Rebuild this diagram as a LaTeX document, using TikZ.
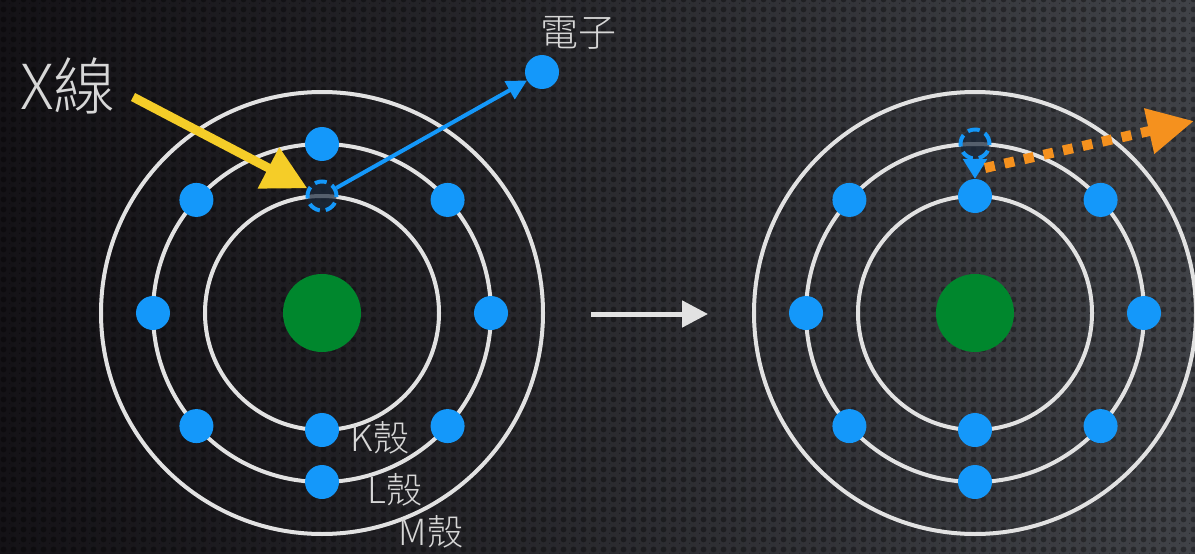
\documentclass[tikz,border=0pt]{standalone}
\usepackage{fontspec}
\newfontfamily\cjk{Noto Sans CJK TC}[UprightFont={* Light}]
\usetikzlibrary{arrows.meta,calc,patterns.meta}
\definecolor{elBlue}{RGB}{20,152,250}
\definecolor{nucGreen}{RGB}{0,135,45}
\definecolor{xYellow}{RGB}{245,205,40}
\definecolor{phOrange}{RGB}{245,145,30}
\definecolor{shellWhite}{RGB}{226,226,226}
\definecolor{inkText}{RGB}{215,215,215}
\definecolor{bgDark}{RGB}{20,18,22}
\definecolor{bgGray}{RGB}{64,66,71}
\definecolor{holeFill}{RGB}{25,40,60}

% dark pits of the mesh backdrop
\tikzdeclarepattern{name=mesh,type=uncolored,
  bottom left={(0pt,0pt)},top right={(10pt,10pt)},tile size={(10pt,10pt)},
  code={\fill (5pt,5pt) circle (3.2pt); \fill (0pt,0pt) circle (1.6pt);}}

\begin{document}
\begin{tikzpicture}[x=1pt,y=-1pt,
  shell/.style={draw=shellWhite,line width=4pt},
  el/.style={circle,fill=elBlue,minimum size=34pt,inner sep=0pt},
  nuc/.style={circle,fill=nucGreen,minimum size=78pt,inner sep=0pt},
  hole/.style={circle,draw=elBlue,line width=4pt,dash pattern=on 12pt off 6pt,
               fill=holeFill,fill opacity=0.7,minimum size=29pt,inner sep=0pt},
  lbl/.style={text=inkText,font=\cjk\fontsize{36}{40}\selectfont,inner sep=0pt},
  xray/.style={draw=xYellow,line width=9pt,-{Triangle[length=44pt,width=44pt]}},
  eject/.style={draw=elBlue,line width=4pt,-{Triangle[length=20pt,width=20pt]}},
  drop/.style={draw=elBlue,line width=3pt,-{Triangle[length=20pt,width=24pt]}},
  photon/.style={draw=phOrange,line width=10pt,dash pattern=on 10pt off 10pt,
                 -{Triangle[length=46pt,width=44pt]}},
  nextarr/.style={draw=shellWhite,line width=5pt,-{Triangle[length=26pt,width=26pt]}}]
  % background
  \useasboundingbox (0,0) rectangle (1195,554);
  \shade[left color=bgDark,right color=bgGray] (0,0) rectangle (1195,554);
  \fill[pattern=mesh,pattern color=black,opacity=0.35] (0,0) rectangle (1195,554);

  % atom before: K electron knocked out
  \node[nuc] (nA) at (322,313) {};
  \foreach \r in {117,169,221} \draw[shell] (nA.center) circle (\r);
  \foreach \a in {0,42,90,138,180,222,270,318}
    \node[el] (lA\a) at ($(nA.center)+(\a:169)$) {};
  \node[el] (kA) at ($(nA.center)+(0,117)$) {};
  \node[hole] (hA) at ($(nA.center)+(0,-117)$) {};
  \node[el] (eA) at (542,72) {};
  \coordinate (xs) at (133,97);
  \draw[xray] (xs) -- (hA);
  \draw[eject] (hA) -- (eA);
  \node[lbl,font=\cjk\fontsize{62}{66}\selectfont] (xl) at (68,86) {X線};
  \node[lbl,font=\cjk\fontsize{38}{42}\selectfont] (el) at (578,33) {電子};
  \node[lbl] (kl) at (380,438) {K殼};
  \node[lbl] (ll) at (395,490) {L殼};
  \node[lbl] (ml) at (431,532) {M殼};

  % arrow between the two states
  \coordinate (ga) at (591,314);
  \coordinate (gb) at (708,314);
  \draw[nextarr] (ga) -- (gb);

  % atom after: L electron falls into the K hole
  \node[nuc] (nB) at (975,313) {};
  \foreach \r in {117,169,221} \draw[shell] (nB.center) circle (\r);
  \foreach \a in {0,42,90,138,180,222,318}
    \node[el] (lB\a) at ($(nB.center)+(\a:169)$) {};
  \node[el] (kB1) at ($(nB.center)+(0,-117)$) {};
  \node[el] (kB2) at ($(nB.center)+(0,117)$) {};
  \node[hole] (hB) at ($(nB.center)+(0,-169)$) {};
  \draw[drop] (hB) -- (kB1);
  \coordinate (ps) at (985,168);
  \coordinate (pe) at (1194,121);
  \draw[photon] (ps) -- (pe);
\end{tikzpicture}
\end{document}
